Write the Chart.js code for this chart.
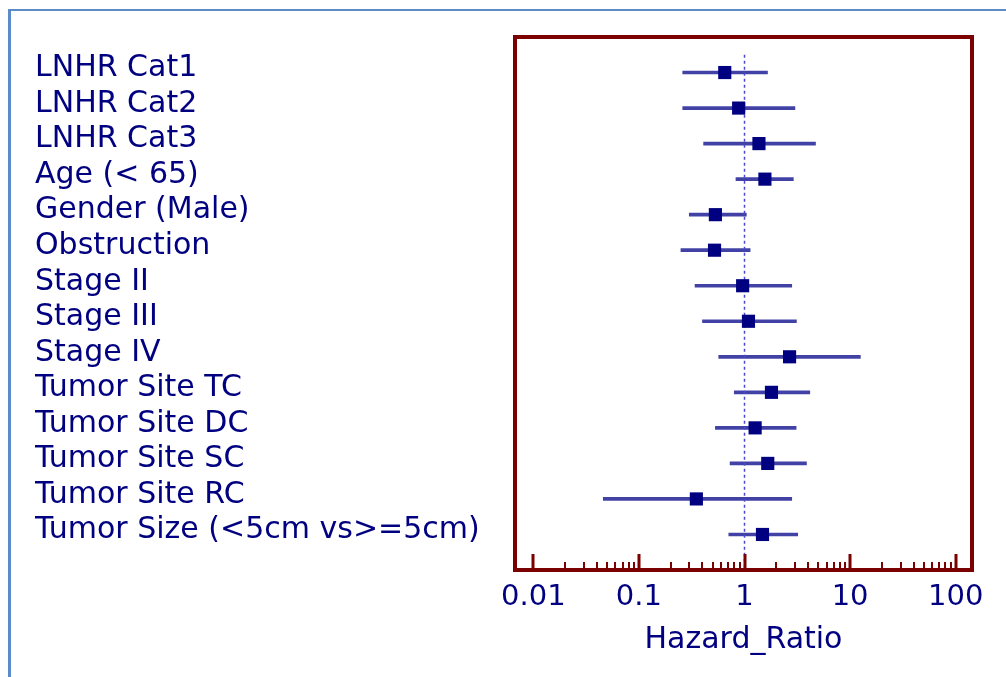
<!DOCTYPE html>
<html>
<head>
<meta charset="utf-8">
<script src="https://cdn.jsdelivr.net/npm/chart.js@4.4.1/dist/chart.umd.min.js"></script>
<style>
  html, body { margin: 0; padding: 0; background: #fff; overflow: hidden; }
  #frame {
    position: absolute; left: 8px; top: 9px; width: 1200px; height: 900px;
    border-top: 2px solid #5b8bc8; border-left: 3px solid #5b8bc8;
  }
  #chart { position: absolute; left: 0; top: 0; }
</style>
</head>
<body>
<div id="frame"></div>
<canvas id="chart" width="1006" height="677"></canvas>
<script>
// Covariates, top to bottom
const covariates = [
  'LNHR Cat1', 'LNHR Cat2', 'LNHR Cat3', 'Age (< 65)', 'Gender (Male)',
  'Obstruction', 'Stage II', 'Stage III', 'Stage IV', 'Tumor Site TC',
  'Tumor Site DC', 'Tumor Site SC', 'Tumor Site RC', 'Tumor Size (<5cm vs>=5cm)'
];
const hazardRatio = [0.65, 0.88, 1.37, 1.56, 0.53, 0.52, 0.96, 1.09, 2.67, 1.80, 1.26, 1.66, 0.35, 1.48];
const lowerCI = [0.26, 0.26, 0.41, 0.83, 0.30, 0.25, 0.34, 0.40, 0.57, 0.80, 0.53, 0.73, 0.046, 0.71];
const upperCI = [1.65, 3.0, 4.7, 2.9, 1.04, 1.13, 2.8, 3.1, 12.5, 4.15, 3.08, 3.86, 2.8, 3.19];

// Axis ticks
const decadeTicks = [0.01, 0.1, 1, 10, 100];
const decadeLabels = ['0.01', '0.1', '1', '10', '100'];
const minorSteps = [2, 3, 4, 5, 6, 7, 8, 9];

const navy = '#000080';
const frameRed = '#7b0000';
const font = 'DejaVu Sans';

// plot frame + inward tick marks on the bottom axis
const framePlugin = {
  id: 'frame',
  afterDatasetsDraw(chart) {
    const { ctx, chartArea: a } = chart;
    const xs = chart.scales.x;
    ctx.save();
    ctx.strokeStyle = frameRed;
    ctx.lineWidth = 4;
    ctx.strokeRect(a.left, a.top, a.right - a.left, a.bottom - a.top);
    xs.ticks.forEach(t => {
      const major = decadeTicks.includes(t.value);
      const px = Math.round(xs.getPixelForValue(t.value));
      ctx.lineWidth = major ? 3 : 2;
      ctx.beginPath();
      ctx.moveTo(px, a.bottom);
      ctx.lineTo(px, a.bottom - (major ? 16 : 8));
      ctx.stroke();
    });
    ctx.restore();
  }
};

const ctx = document.getElementById('chart').getContext('2d');
new Chart(ctx, {
  type: 'scatter',
  data: {
    datasets: [
      {
        type: 'bar',
        indexAxis: 'y',
        data: covariates.map((_, i) => ({ y: i, x: [lowerCI[i], upperCI[i]] })),
        backgroundColor: '#4242a6',
        barThickness: 3,
        order: 3
      },
      {
        type: 'line',
        data: [{ x: 1, y: -0.5 }, { x: 1, y: 14 }],
        borderColor: '#4a4ad0',
        borderWidth: 1.5,
        borderDash: [3, 3],
        pointRadius: 0,
        order: 2
      },
      {
        type: 'scatter',
        data: hazardRatio.map((v, i) => ({ x: v, y: i })),
        pointStyle: 'rect',
        pointRadius: 9.3,
        backgroundColor: navy,
        borderWidth: 0,
        order: 1
      }
    ]
  },
  options: {
    responsive: false,
    animation: false,
    layout: { padding: { left: 35, top: 37, right: 34, bottom: 0 } },
    plugins: {
      legend: { display: false },
      tooltip: { enabled: false }
    },
    scales: {
      x: {
        type: 'logarithmic',
        position: 'bottom',
        min: 0.00671,
        max: 142.6,
        grid: { display: false },
        border: { display: false },
        afterBuildTicks(scale) {
          const ticks = [];
          decadeTicks.forEach((d, k) => {
            ticks.push({ value: d });
            if (k < decadeTicks.length - 1) {
              minorSteps.forEach(m => ticks.push({ value: +(d * m).toPrecision(3) }));
            }
          });
          scale.ticks = ticks;
        },
        afterFit(scale) { scale.height = 107; },
        ticks: {
          autoSkip: false,
          maxRotation: 0,
          padding: 2,
          color: navy,
          font: { family: font, size: 29 },
          callback(value) {
            const k = decadeTicks.indexOf(value);
            return k >= 0 ? decadeLabels[k] : '';
          }
        },
        title: {
          display: true,
          text: 'Hazard_Ratio',
          color: navy,
          font: { family: font, size: 30 },
          padding: { top: 0, bottom: 19 }
        }
      },
      y: {
        type: 'linear',
        reverse: true,
        min: -1,
        max: 14,
        offset: false,
        grid: { display: false },
        border: { display: false },
        afterBuildTicks(scale) {
          scale.ticks = covariates.map((_, i) => ({ value: i }));
        },
        afterFit(scale) { scale.width = 480; },
        ticks: {
          autoSkip: false,
          crossAlign: 'far',
          labelOffset: -4,
          color: navy,
          font: { family: font, size: 30 },
          callback(value) { return covariates[value] ?? ''; }
        }
      }
    }
  },
  plugins: [framePlugin]
});
</script>
</body>
</html>
